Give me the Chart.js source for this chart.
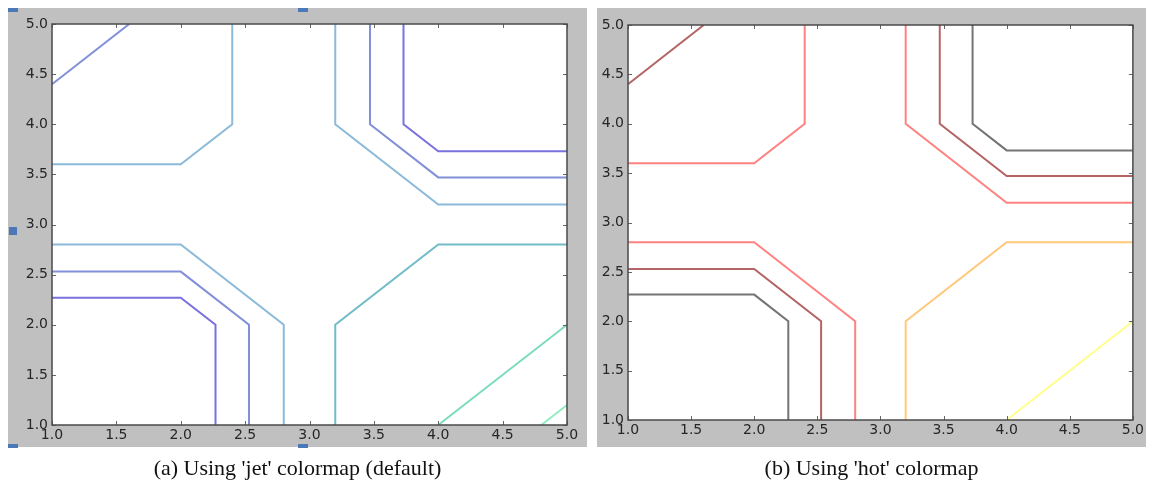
<!DOCTYPE html>
<html>
<head>
<meta charset="utf-8">
<script src="https://cdn.jsdelivr.net/npm/chart.js@4/dist/chart.umd.min.js"></script>
<style>
  body { margin: 0; width: 1150px; height: 494px; background: #fff; position: relative; overflow: hidden; }
  .panel { position: absolute; top: 8px; background: #c0c0c0; }
  #jetPanel { left: 8px; width: 579px; height: 439px; }
  #hotPanel { left: 597px; width: 549px; height: 439px; }
  .caption { position: absolute; top: 456px; font-family: "Liberation Serif", "DejaVu Serif", serif; font-size: 22px; line-height: 24px; color: #111; text-align: center; }
  .handle { position: absolute; background: #4a78b8; }
</style>
</head>
<body>
<div class="panel" id="jetPanel"><canvas id="jetChart" width="579" height="439"></canvas></div>
<div class="panel" id="hotPanel"><canvas id="hotChart" width="549" height="439"></canvas></div>

<div class="handle" style="left:8px;top:8px;width:10px;height:4px"></div>
<div class="handle" style="left:298px;top:8px;width:10px;height:4px"></div>
<div class="handle" style="left:9px;top:227px;width:8px;height:8px"></div>
<div class="handle" style="left:8px;top:444px;width:10px;height:4px"></div>
<div class="handle" style="left:298px;top:444px;width:10px;height:4px"></div>

<div class="caption" style="left:8px;width:579px">(a) Using 'jet' colormap (default)</div>
<div class="caption" style="left:597px;width:549px">(b) Using 'hot' colormap</div>

<script>
// axis ticks
const xTicks = [1.0, 1.5, 2.0, 2.5, 3.0, 3.5, 4.0, 4.5, 5.0]
const yTicks = [1.0, 1.5, 2.0, 2.5, 3.0, 3.5, 4.0, 4.5, 5.0]

// contour paths (x, y)
const lowInnerX = [1.0, 2.0, 2.27, 2.27]
const lowInnerY = [2.27, 2.27, 2.0, 1.0]
const lowMidX = [1.0, 2.0, 2.53, 2.53]
const lowMidY = [2.53, 2.53, 2.0, 1.0]
const lowOuterX = [1.0, 2.0, 2.8, 2.8]
const lowOuterY = [2.8, 2.8, 2.0, 1.0]
const upLeftX = [1.0, 2.0, 2.4, 2.4]
const upLeftY = [3.6, 3.6, 4.0, 5.0]
const cornerX = [1.0, 1.6]
const cornerY = [4.4, 5.0]
const upOuterX = [3.2, 3.2, 4.0, 5.0]
const upOuterY = [5.0, 4.0, 3.2, 3.2]
const upMidX = [3.47, 3.47, 4.0, 5.0]
const upMidY = [5.0, 4.0, 3.47, 3.47]
const upInnerX = [3.73, 3.73, 4.0, 5.0]
const upInnerY = [5.0, 4.0, 3.73, 3.73]
const rightX = [3.2, 3.2, 4.0, 5.0]
const rightY = [1.0, 2.0, 2.8, 2.8]
const diagX = [4.0, 5.0]
const diagY = [1.0, 2.0]
const tipX = [4.8, 5.0]
const tipY = [1.0, 1.2]

const paths = [
  [lowInnerX, lowInnerY], [lowMidX, lowMidY], [lowOuterX, lowOuterY],
  [upLeftX, upLeftY], [cornerX, cornerY],
  [upOuterX, upOuterY], [upMidX, upMidY], [upInnerX, upInnerY],
  [rightX, rightY], [diagX, diagY], [tipX, tipY]
]

const jetColors = ["#7a72de", "#8290da", "#8cbada", "#8cbada", "#8290da",
  "#8cbada", "#8290da", "#7a72de", "#72bcc8", "#7cdcc0", "#92eec2"]
const hotColors = ["#747474", "#b46464", "#ff8282", "#ff8282", "#b46464",
  "#ff8282", "#b46464", "#747474", "#ffc87a", "#ffff8c", "#ffffff"]

// frame and inward tick marks, like a classic matplotlib axes box
const frame = {
  id: "frame",
  afterDatasetsDraw(chart) {
    const { ctx, chartArea: a, scales } = chart
    ctx.save()
    ctx.strokeStyle = "#666"
    ctx.lineWidth = 1
    ctx.beginPath()
    xTicks.forEach(v => {
      const px = Math.round(scales.x.getPixelForValue(v)) + 0.5
      ctx.moveTo(px, a.bottom); ctx.lineTo(px, a.bottom - 4)
      ctx.moveTo(px, a.top); ctx.lineTo(px, a.top + 4)
    })
    yTicks.forEach(v => {
      const py = Math.round(scales.y.getPixelForValue(v)) + 0.5
      ctx.moveTo(a.left, py); ctx.lineTo(a.left + 4, py)
      ctx.moveTo(a.right, py); ctx.lineTo(a.right - 4, py)
    })
    ctx.stroke()
    ctx.strokeStyle = "#4a4a4a"
    ctx.lineWidth = 1.5
    ctx.strokeRect(a.left, a.top, a.right - a.left, a.bottom - a.top)
    ctx.restore()
  }
}

const plotBg = {
  id: "plotBg",
  beforeDraw(chart) {
    const { ctx, chartArea: a } = chart
    ctx.save()
    ctx.fillStyle = "#fff"
    ctx.fillRect(a.left, a.top, a.right - a.left, a.bottom - a.top)
    ctx.restore()
  }
}

function makeChart(id, colors, pad, yWidth, xHeight) {
  const tickFont = { family: "DejaVu Sans", size: 14 }
  return new Chart(document.getElementById(id), {
    type: "scatter",
    data: {
      datasets: paths.map(([xs, ys], i) => ({
        data: xs.map((x, j) => ({ x, y: ys[j] })),
        showLine: true,
        borderColor: colors[i],
        borderWidth: 2,
        pointRadius: 0,
        tension: 0
      }))
    },
    options: {
      responsive: false,
      animation: false,
      events: [],
      layout: { padding: pad },
      plugins: { legend: { display: false }, tooltip: { enabled: false } },
      scales: {
        x: {
          type: "linear", min: 1, max: 5,
          afterBuildTicks: s => { s.ticks = xTicks.map(value => ({ value })) },
          afterFit: s => { s.height = xHeight },
          grid: { display: false, drawTicks: false },
          border: { display: false },
          ticks: { color: "#262626", font: tickFont, padding: 2, maxRotation: 0, callback: v => v.toFixed(1) }
        },
        y: {
          type: "linear", min: 1, max: 5,
          afterBuildTicks: s => { s.ticks = yTicks.map(value => ({ value })) },
          afterFit: s => { s.width = yWidth },
          grid: { display: false, drawTicks: false },
          border: { display: false },
          ticks: { color: "#262626", font: tickFont, padding: 4, callback: v => v.toFixed(1) }
        }
      }
    },
    plugins: [plotBg, frame]
  })
}

makeChart("jetChart", jetColors, { left: 0, top: 16, right: 20, bottom: 0 }, 44, 22)
makeChart("hotChart", hotColors, { left: 0, top: 17, right: 12, bottom: 0 }, 31, 27)
</script>
</body>
</html>
